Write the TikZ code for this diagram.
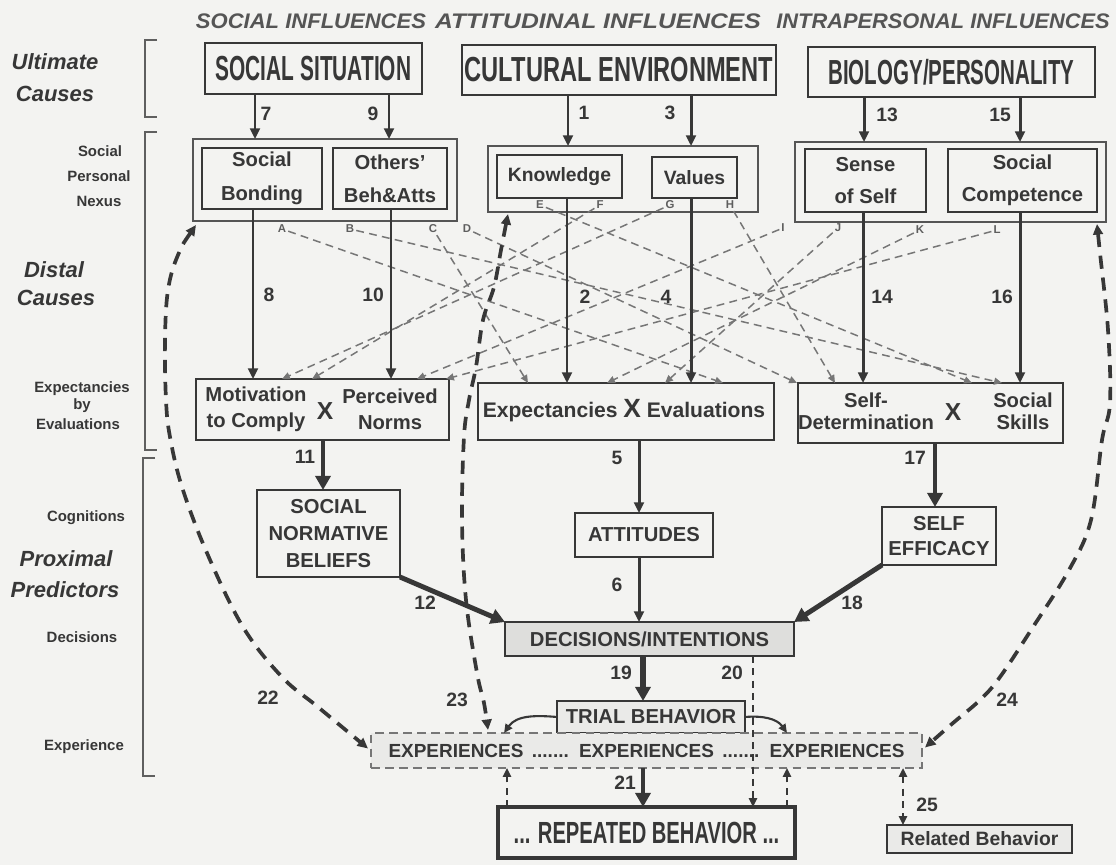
\documentclass[tikz,border=0pt]{standalone}
\usepackage{fontspec}
\usepackage{graphicx}
\setmainfont{Liberation Sans}
\usetikzlibrary{arrows.meta}
\definecolor{paper}{RGB}{243,243,241}
\definecolor{ink}{RGB}{55,55,55}
\definecolor{soft}{RGB}{118,118,118}
\definecolor{shade}{RGB}{222,222,220}
\definecolor{pale}{RGB}{234,234,232}
% box given by its corners: \pbox[style]{name}{x1}{y1}{x2}{y2}{text}
\newcommand\pbox[7][]{%
  \node[boxbase,#1,minimum width={(#5-#3)*0.02cm},minimum height={(#6-#4)*0.02cm}]
    (#2) at ({(#3+#5)/2},{(#4+#6)/2}) {#7};}
\newcommand\narrow[2]{\scalebox{#1}[1]{#2}}
\tikzset{
  boxbase/.style={draw=ink, line width=0.9pt, inner sep=0pt, outer sep=0pt, text=ink,
    align=center, font=\bfseries\fontsize{11}{15}\selectfont},
  bigbox/.style={line width=1pt, font=\bfseries\fontsize{19.8}{22}\selectfont},
  grpbox/.style={draw=ink!85, line width=0.8pt},
  arr/.style={draw=ink, line width=1.7pt, -{Triangle[length=6pt,width=5.5pt]}},
  thickarr/.style={draw=ink, line width=2.8pt, -{Triangle[length=8pt,width=8.5pt]}},
  xlink/.style={draw=soft, line width=0.85pt, dash pattern=on 4.5pt off 3pt,
    -{Triangle[length=4.5pt,width=4pt]}},
  feedback/.style={draw=ink, line width=2.1pt, dash pattern=on 7.5pt off 5pt,
    {Triangle[length=6pt,width=5.5pt]}-{Triangle[length=6pt,width=5.5pt]}},
  tdash/.style={draw=ink, line width=1.3pt, dash pattern=on 4pt off 3pt},
  smalltip/.style={-{Triangle[length=5pt,width=4.5pt]}},
  curvearr/.style={draw=ink, line width=1.2pt, -{Triangle[length=5pt,width=4.5pt]}},
  num/.style={text=ink, font=\bfseries\fontsize{11}{12}\selectfont, inner sep=0pt},
  tag/.style={text=soft!80!black, font=\bfseries\fontsize{6.5}{7}\selectfont, inner sep=1pt},
  lvl/.style={text=ink, font=\bfseries\fontsize{8.5}{10}\selectfont, inner sep=0pt},
  lvlbig/.style={text=ink, font=\bfseries\itshape\fontsize{12.5}{14}\selectfont, inner sep=0pt},
  colhead/.style={text=ink!85!white, font=\bfseries\itshape\fontsize{12}{13}\selectfont, inner sep=0pt},
  brk/.style={draw=ink!80, line width=0.7pt},
  bigx/.style={text=ink, font=\bfseries\fontsize{14}{14}\selectfont, inner sep=0pt},
  intext/.style={text=ink, align=center, inner sep=0pt},
}
\begin{document}
\begin{tikzpicture}[x=0.02cm,y=-0.02cm]
\fill[paper] (0,0) rectangle (1116,865);
\useasboundingbox (0,0) rectangle (1116,865);

% column headings
\node[colhead] (hsoc) at (311,21) {\narrow{1.045}{SOCIAL INFLUENCES}};
\node[colhead] (hatt) at (598,21) {\narrow{1.17}{ATTITUDINAL INFLUENCES}};
\node[colhead,anchor=west] (hintra) at (776,21) {\narrow{1.035}{INTRAPERSONAL INFLUENCES}};

% level labels on the left
\node[lvlbig] (lult) at (55,62) {Ultimate};
\node[lvlbig] (lcau) at (55,94) {Causes};
\node[lvl] (lsoc) at (100,151) {Social};
\node[lvl] (lper) at (99,176) {Personal};
\node[lvl] (lnex) at (99,201) {Nexus};
\node[lvlbig] (ldis) at (54,270) {Distal};
\node[lvlbig] (ldca) at (56,298) {Causes};
\node[lvl] (lexp) at (82,389) {Expectancies};
\node[lvl] (lby) at (82,406) {by};
\node[lvl] (leva) at (78,424) {Evaluations};
\node[lvl] (lcog) at (86,518) {Cognitions};
\node[lvlbig] (lpro) at (66,559) {Proximal};
\node[lvlbig] (lpre) at (65,590) {Predictors};
\node[lvl] (ldec) at (82,637) {Decisions};
\node[lvl] (lexe) at (84,747) {Experience};

% brackets
\draw[brk] (157,40) -- (145,40) -- (145,117) -- (157,117);
\draw[brk] (157,132) -- (145,132) -- (145,450) -- (157,450);
\draw[brk] (155,458) -- (143,458) -- (143,776) -- (155,776);

% ultimate causes
\pbox[bigbox]{socsit}{205}{43}{422}{94}{\narrow{0.6}{SOCIAL SITUATION}}
\pbox[bigbox]{cult}{462}{45}{776}{95}{\narrow{0.68}{CULTURAL ENVIRONMENT}}
\pbox[bigbox]{bio}{808}{47}{1095}{97}{\narrow{0.59}{BIOLOGY/PERSONALITY}}

% social personal nexus
\pbox[grpbox]{socgrp}{193}{139}{457}{221}{}
\pbox[font=\bfseries\fontsize{11.5}{19}\selectfont]{sbond}{202}{148}{322}{209}{Social\\Bonding}
\pbox[font=\bfseries\fontsize{11.5}{19}\selectfont]{others}{333}{148}{447}{209}{Others'\\Beh\&Atts}
\pbox[grpbox]{cultgrp}{488}{146}{758}{212}{}
\pbox{know}{497}{155}{622}{198}{Knowledge}
\pbox{values}{652}{157}{737}{198}{Values}
\pbox[grpbox]{biogrp}{795}{142}{1106}{222}{}
\pbox[font=\bfseries\fontsize{11.5}{18}\selectfont]{self}{805}{149}{926}{212}{Sense\\of Self}
\pbox[font=\bfseries\fontsize{11.5}{18}\selectfont]{comp}{948}{149}{1097}{212}{Social\\Competence}

% letters marking the cross paths
\node[tag] (A) at (282,229) {A};
\node[tag] (B) at (350,229) {B};
\node[tag] (C) at (433,229) {C};
\node[tag] (D) at (467,229) {D};
\node[tag] (E) at (540,205) {E};
\node[tag] (F) at (600,205) {F};
\node[tag] (G) at (670,205) {G};
\node[tag] (H) at (730,205) {H};
\node[tag] (I) at (783,228) {I};
\node[tag] (J) at (838,228) {J};
\node[tag] (K) at (920,230) {K};
\node[tag] (L) at (997,230) {L};

% expectancies by evaluations
\pbox{motiv}{196}{379}{449}{440}{}
\node[intext,font=\bfseries\fontsize{11.5}{15}\selectfont] (mtc) at (256,409) {Motivation\\to Comply};
\node[bigx] (mx) at (325,411) {X};
\node[intext,font=\bfseries\fontsize{11.5}{15}\selectfont] (pn) at (390,409) {Perceived\\Norms};
\pbox{expbox}{478}{383}{774}{440}{}
\node[intext,font=\bfseries\fontsize{12}{15}\selectfont] (ee) at (624,411)
  {Expectancies {\fontsize{15}{15}\selectfont X} Evaluations};
\pbox{sdbox}{798}{383}{1063}{443}{}
\node[intext,font=\bfseries\fontsize{11.5}{12.5}\selectfont] (sdt) at (866,411) {Self-\\Determination};
\node[bigx] (sx) at (953,412) {X};
\node[intext,font=\bfseries\fontsize{11.5}{12.5}\selectfont] (ssk) at (1023,411) {Social\\Skills};

% cross paths between the nexus elements and the expectancies
\draw[xlink] (A) -- (expbox.north -| 723,0);
\draw[xlink] (B) -- (sdbox.north -| 1002,0);
\draw[xlink] (C) -- (expbox.north -| 528,0);
\draw[xlink] (D) -- (sdbox.north -| 797,0);
\draw[xlink] (E) -- (sdbox.north -| 972,0);
\draw[xlink] (F) -- (motiv.north -| 312,0);
\draw[xlink] (G) -- (motiv.north -| 282,0);
\draw[xlink] (H) -- (sdbox.north -| 835,0);
\draw[xlink] (I) -- (motiv.north -| 417,0);
\draw[xlink] (J) -- (expbox.north -| 665,0);
\draw[xlink] (K) -- (expbox.north -| 607,0);
\draw[xlink] (L) -- (motiv.north -| 446,0);

% proximal predictors
\pbox[font=\bfseries\fontsize{11.5}{15.3}\selectfont]{snb}{257}{490}{400}{577}{SOCIAL\\NORMATIVE\\BELIEFS}
\pbox[font=\bfseries\fontsize{11.5}{14}\selectfont]{att}{575}{513}{713}{557}{ATTITUDES}
\pbox[font=\bfseries\fontsize{11.5}{14}\selectfont]{seff}{882}{507}{996}{565}{SELF\\EFFICACY}
\pbox[fill=shade,font=\bfseries\fontsize{11.5}{14}\selectfont]{dec}{505}{622}{794}{656}{DECISIONS/INTENTIONS}
\pbox[fill=pale,font=\bfseries\fontsize{11.5}{14}\selectfont]{trial}{557}{701}{745}{733}{TRIAL BEHAVIOR}
\pbox[fill=pale,draw=soft,dash pattern=on 5pt off 3pt,line width=0.8pt,font=\bfseries\fontsize{10.8}{13}\selectfont]{expx}{371}{733}{922}{768}
  {EXPERIENCES \,....... \,EXPERIENCES \,....... \,EXPERIENCES}
\pbox[line width=1.8pt,font=\bfseries\fontsize{17.4}{20}\selectfont]{rep}{498}{807}{795}{858}{\narrow{0.66}{... REPEATED BEHAVIOR ...}}
\pbox[fill=pale,font=\bfseries\fontsize{11}{13}\selectfont]{related}{887}{825}{1072}{853}{Related Behavior}

% causal paths
\draw[arr] (socsit.south -| 255,0) -- (socgrp.north -| 255,0);
\draw[arr] (socsit.south -| 389,0) -- (socgrp.north -| 389,0);
\draw[arr] (cult.south -| 568,0) -- (cultgrp.north -| 568,0);
\draw[arr] (cult.south -| 691,0) -- (cultgrp.north -| 691,0);
\draw[arr] (bio.south -| 864,0) -- (biogrp.north -| 864,0);
\draw[arr] (bio.south -| 1020,0) -- (biogrp.north -| 1020,0);
\draw[arr] (sbond.south -| 253,0) -- (motiv.north -| 253,0);
\draw[arr] (others.south -| 391,0) -- (motiv.north -| 391,0);
\draw[arr] (know.south -| 567,0) -- (expbox.north -| 567,0);
\draw[arr] (values.south -| 691,0) -- (expbox.north -| 691,0);
\draw[arr] (self.south -| 863,0) -- (sdbox.north -| 863,0);
\draw[arr] (comp.south -| 1020,0) -- (sdbox.north -| 1020,0);
\draw[thickarr,line width=2.4pt] (motiv.south -| 323,0) -- (snb.north -| 323,0);
\draw[arr] (expbox.south -| 639,0) -- (att.north -| 639,0);
\draw[thickarr,line width=2.4pt] (sdbox.south -| 935,0) -- (seff.north -| 935,0);
\draw[arr] (att.south -| 639,0) -- (dec.north -| 639,0);
\draw[thickarr] (snb.south east) -- (dec.north west);
\draw[thickarr] (seff.south west) -- (dec.north east);
\draw[thickarr,line width=3.2pt] (dec.south -| 643,0) -- (trial.north -| 643,0);
\draw[thickarr] (expx.south -| 643,0) -- (rep.north -| 643,0);
\draw[curvearr] (trial.west) to[out=175,in=55] (expx.north -| 504,0);
\draw[curvearr] (trial.east) to[out=5,in=125] (expx.north -| 787,0);
\draw[tdash,smalltip] (dec.south -| 753,0) -- (rep.north -| 753,0);
\draw[tdash,smalltip] (rep.north -| 507,0) -- (expx.south -| 507,0);
\draw[tdash,smalltip] (rep.north -| 787,0) -- (expx.south -| 787,0);
\draw[tdash,{Triangle[length=5pt,width=4.5pt]}-{Triangle[length=5pt,width=4.5pt]}]
  (expx.south -| 903,0) -- (related.north -| 903,0);

% feedback loops
\draw[feedback] plot[smooth,tension=0.6] coordinates {([shift={(3,4)}]socgrp.south west)
  (178,255) (168,290) (165,340) (166,400) (170,437) (182,487) (207,553) (243,627)
  (282,677) (318,707) ([shift={(-3,-2)}]expx.west)};
\draw[feedback] plot[smooth,tension=0.6] coordinates {([shift={(20,2)}]cultgrp.south west)
  (501,250) (494,287) (483,320) (476,367) (469,400) (464,437) (462,520) (466,600)
  (477,673) (484,703) ([shift={(117,-3)}]expx.north west)};
\draw[feedback] plot[smooth,tension=0.6] coordinates {([shift={(-9,2)}]biogrp.south east)
  (1100,253) (1108,330) (1110,403) (1102,440) (1091,520) (1069,570) (1033,627)
  (1000,677) (980,700) (953,723) ([shift={(3,-3)}]expx.east)};

% path numbers
\node[num] (n7) at (266,114) {7};
\node[num] (n9) at (373,114) {9};
\node[num] (n1) at (584,113) {1};
\node[num] (n3) at (670,113) {3};
\node[num] (n13) at (887,115) {13};
\node[num] (n15) at (1000,115) {15};
\node[num] (n8) at (269,295) {8};
\node[num] (n10) at (373,295) {10};
\node[num] (n2) at (585,297) {2};
\node[num] (n4) at (666,297) {4};
\node[num] (n14) at (882,297) {14};
\node[num] (n16) at (1002,297) {16};
\node[num] (n11) at (305,457) {11};
\node[num] (n5) at (617,458) {5};
\node[num] (n17) at (915,458) {17};
\node[num] (n6) at (617,585) {6};
\node[num] (n12) at (425,603) {12};
\node[num] (n18) at (852,603) {18};
\node[num] (n19) at (621,673) {19};
\node[num] (n20) at (732,673) {20};
\node[num] (n22) at (268,698) {22};
\node[num] (n23) at (457,700) {23};
\node[num] (n24) at (1007,700) {24};
\node[num] (n21) at (625,783) {21};
\node[num] (n25) at (927,805) {25};
\end{tikzpicture}
\end{document}
